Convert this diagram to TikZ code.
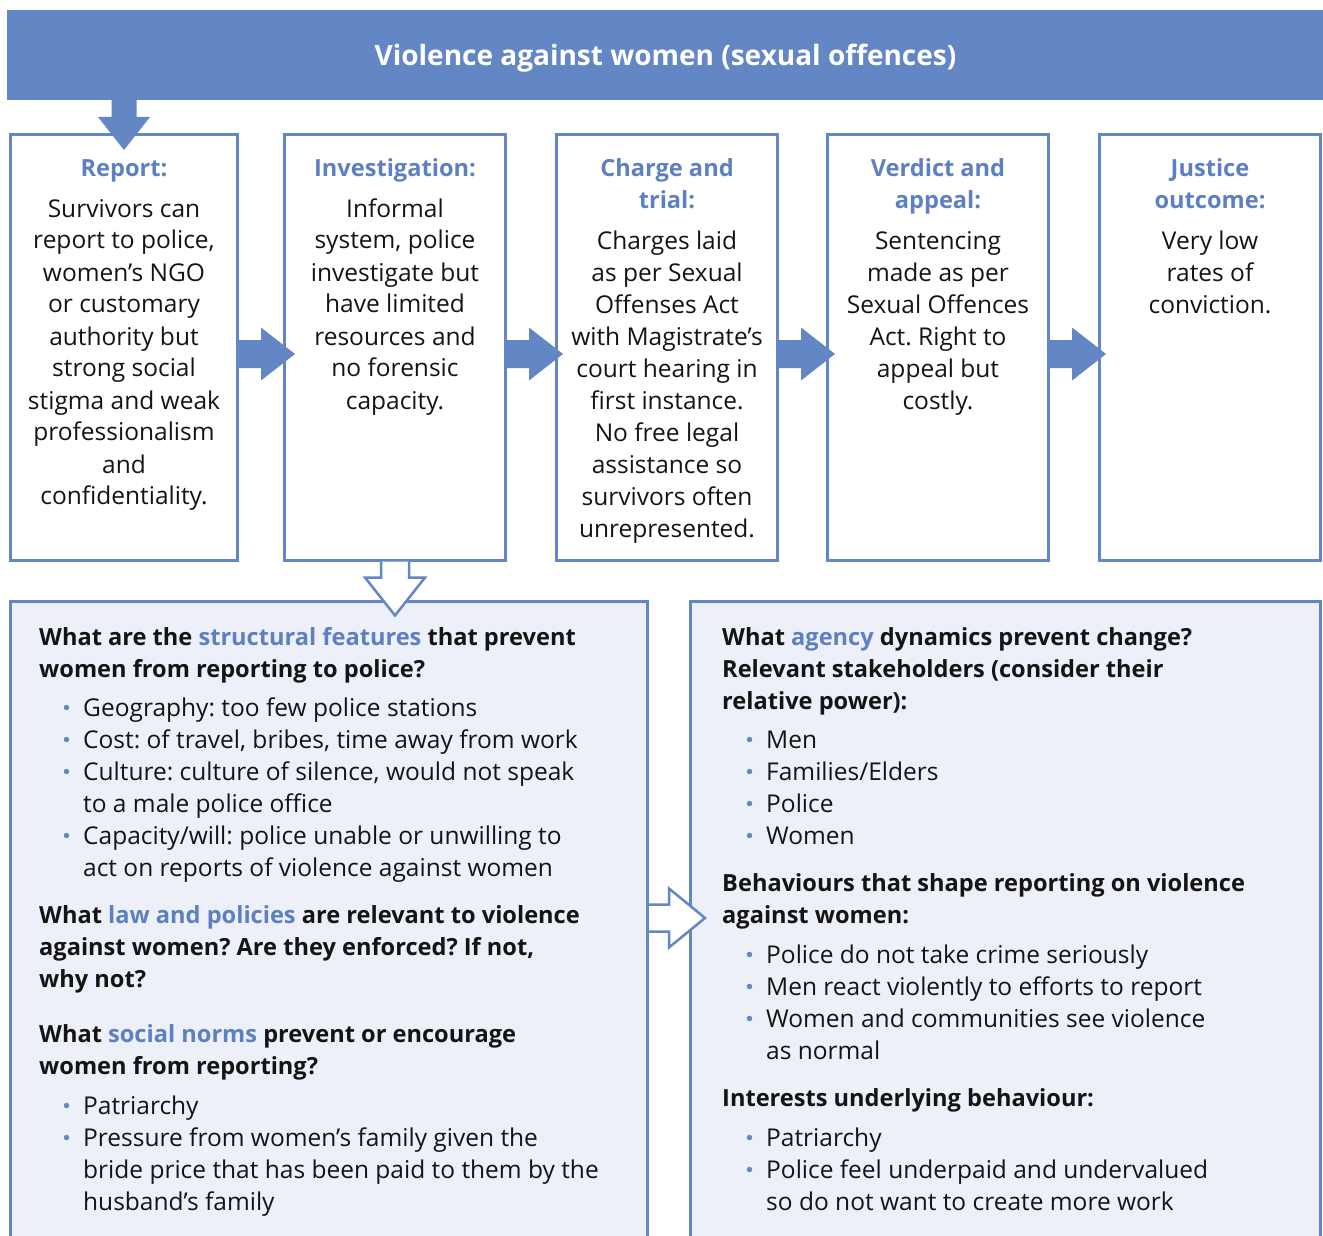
\documentclass[tikz,border=0pt]{standalone}
\usepackage{fontspec}
\setmainfont{Open Sans}
\usetikzlibrary{calc}
\frenchspacing

\definecolor{vblue}{RGB}{99,134,196}
\definecolor{hblue}{RGB}{93,128,194}
\definecolor{paleblue}{RGB}{237,240,248}
\definecolor{ink}{RGB}{20,20,20}

% stacked lines whose baseline is the baseline of the first line
\newcommand\colc[1]{\begin{tabular}[t]{@{}c@{}}#1\end{tabular}}
\newcommand\coll[1]{\begin{tabular}[t]{@{}l@{}}#1\end{tabular}}
\newcommand\kw[1]{\textcolor{hblue}{#1}}

\tikzset{
  stagebox/.style={draw=vblue, line width=3pt, inner sep=0pt, minimum height=425pt},
  stagehead/.style={anchor=base, inner sep=0pt, text=hblue,
    font=\fontsize{23.6}{32}\selectfont\bfseries},
  stagetext/.style={anchor=base, inner sep=0pt, text=ink,
    font=\fontsize{24.5}{32}\selectfont},
  question/.style={anchor=base west, inner sep=0pt, text=ink,
    font=\fontsize{23.6}{32}\selectfont\bfseries},
  itemtext/.style={anchor=base west, inner sep=0pt, text=ink,
    font=\fontsize{24.5}{32}\selectfont},
  dot/.style={circle, fill=vblue, inner sep=0pt, minimum size=5.5pt},
  pics/solidright/.style={code={
    \fill[vblue] (0,-14) -- (24,-14) -- (24,-26.5) -- (58,0) -- (24,26.5)
      -- (24,14) -- (0,14) -- cycle;}},
  pics/soliddown/.style={code={
    \fill[vblue] (-12.5,-2) -- (-12.5,17) -- (-26,17) -- (0,50) -- (26,17)
      -- (12.5,17) -- (12.5,-2) -- cycle;}},
  pics/hollowdown/.style={code={
    \filldraw[fill=white, draw=vblue, line width=2.5pt]
      (-14,0) -- (-14,16) -- (-30,16) -- (0,54) -- (30,16) -- (14,16) -- (14,0);}},
  pics/hollowright/.style={code={
    \filldraw[fill=white, draw=vblue, line width=2.5pt]
      (0,-13.5) -- (20,-13.5) -- (20,-29.5) -- (56,0) -- (20,29.5)
      -- (20,13.5) -- (0,13.5);}},
}

\begin{document}
\begin{tikzpicture}[x=1pt, y=-1pt]
\useasboundingbox (0,0) rectangle (1323,1236);

% title banner
\node[fill=vblue, inner sep=0pt, outer sep=0pt, minimum width=1316pt,
      minimum height=90pt] (banner) at (665,55) {};
\node[anchor=base, inner sep=0pt, text=white,
      font=\fontsize{28}{32}\selectfont\bfseries] (title) at (665.5,66)
  {Violence against women (sexual offences)};

% the five stages
\node[stagebox, minimum width=227pt] (b1) at (124,347.5) {};
\node[stagebox, minimum width=221pt] (b2) at (395,347.5) {};
\node[stagebox, minimum width=221pt] (b3) at (667,347.5) {};
\node[stagebox, minimum width=221pt] (b4) at (938,347.5) {};
\node[stagebox, minimum width=221pt] (b5) at (1210,347.5) {};

\node[stagehead] (h1) at (124,177) {\colc{Report:}};
\node[stagetext] (t1) at (124,217) {\colc{Survivors can\\report to police,\\women’s NGO\\or customary\\authority but\\strong social\\stigma and weak\\professionalism\\and\\confidentiality.}};

\node[stagehead] (h2) at (395,177) {\colc{Investigation:}};
\node[stagetext] (t2) at (395,217) {\colc{Informal\\system, police\\investigate but\\have limited\\resources and\\no forensic\\capacity.}};

\node[stagehead] (h3) at (667,177) {\colc{Charge and\\trial:}};
\node[stagetext] (t3) at (667,249) {\colc{Charges laid\\as per Sexual\\Offenses Act\\with Magistrate’s\\court hearing in\\first instance.\\No free legal\\assistance so\\survivors often\\unrepresented.}};

\node[stagehead] (h4) at (938,177) {\colc{Verdict and\\appeal:}};
\node[stagetext] (t4) at (938,249) {\colc{Sentencing\\made as per\\Sexual Offences\\Act. Right to\\appeal but\\costly.}};

\node[stagehead] (h5) at (1210,177) {\colc{Justice\\outcome:}};
\node[stagetext] (t5) at (1210,249) {\colc{Very low\\rates of\\conviction.}};

% arrows along the chain
\pic at (b1.north |- banner.south) {soliddown};
\pic at ($(b1.east)+(-2,6.5)$) {solidright};
\pic at ($(b2.east)+(-2,6.5)$) {solidright};
\pic at ($(b3.east)+(-2,6.5)$) {solidright};
\pic at ($(b4.east)+(-2,6.5)$) {solidright};

% analysis panels
\fill[paleblue] (10,601) rectangle (647.5,1236);
\draw[vblue, line width=3pt] (10,1236) -- (10,601) -- (647.5,601) -- (647.5,1236);
\fill[paleblue] (690.5,601) rectangle (1320,1236);
\draw[vblue, line width=3pt] (690.5,1236) -- (690.5,601) -- (1320,601) -- (1320,1236);
\coordinate (leftpanel) at (649,918);

\pic at (b2.south) {hollowdown};
\pic at (leftpanel) {hollowright};

% left panel
\node[question] (q1) at (39,645) {\coll{What are the \kw{structural features} that prevent\\women from reporting to police?}};
\node[itemtext] (l1) at (83,716) {\coll{Geography: too few police stations\\Cost: of travel, bribes, time away from work\\Culture: culture of silence, would not speak\\to a male police office\\Capacity/will: police unable or unwilling to\\act on reports of violence against women}};
\foreach \y in {716,748,780,844} \node[dot] (la\y) at (66.5,\y-8.5) {};

\node[question] (q2) at (39,923) {\coll{What \kw{law and policies} are relevant to violence\\against women? Are they enforced? If not,\\why not?}};

\node[question] (q3) at (39,1042) {\coll{What \kw{social norms} prevent or encourage\\women from reporting?}};
\node[itemtext] (l2) at (83,1114) {\coll{Patriarchy\\Pressure from women’s family given the\\bride price that has been paid to them by the\\husband’s family}};
\foreach \y in {1114,1146} \node[dot] (lb\y) at (66.5,\y-8.5) {};

% right panel
\node[question] (r1) at (722,645) {\coll{What \kw{agency} dynamics prevent change?\\Relevant stakeholders (consider their\\relative power):}};
\node[itemtext] (m1) at (766,748) {\coll{Men\\Families/Elders\\Police\\Women}};
\foreach \y in {748,780,812,844} \node[dot] (ra\y) at (749.5,\y-8.5) {};

\node[question] (r2) at (722,891) {\coll{Behaviours that shape reporting on violence\\against women:}};
\node[itemtext] (m2) at (766,963) {\coll{Police do not take crime seriously\\Men react violently to efforts to report\\Women and communities see violence\\as normal}};
\foreach \y in {963,995,1027} \node[dot] (rb\y) at (749.5,\y-8.5) {};

\node[question] (r3) at (722,1106) {\coll{Interests underlying behaviour:}};
\node[itemtext] (m3) at (766,1146) {\coll{Patriarchy\\Police feel underpaid and undervalued\\so do not want to create more work}};
\foreach \y in {1146,1178} \node[dot] (rc\y) at (749.5,\y-8.5) {};
\end{tikzpicture}
\end{document}
